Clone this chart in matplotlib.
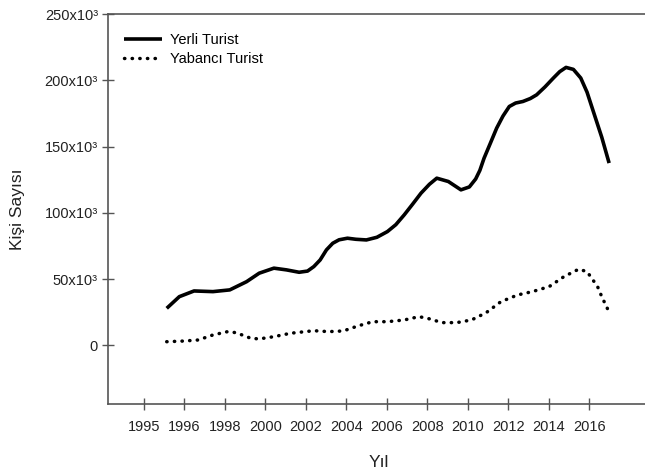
import matplotlib
matplotlib.use("Agg")
import matplotlib.pyplot as plt
import numpy as np

plt.rcParams['font.family'] = ['Liberation Sans', 'DejaVu Sans']

# Yerli Turist
yerli_x = [1995.0, 1995.6, 1996.3, 1997.2, 1998.0, 1998.8, 1999.4, 2000.1, 2000.7,
           2001.3, 2001.7, 2002.0, 2002.3, 2002.6, 2002.9, 2003.2, 2003.6, 2004.0,
           2004.5, 2005.0, 2005.5, 2005.9, 2006.3, 2006.7, 2007.1, 2007.5, 2007.85,
           2008.4, 2009.0, 2009.4, 2009.7, 2009.9, 2010.1, 2010.4, 2010.7, 2011.0,
           2011.3, 2011.6, 2011.95, 2012.3, 2012.6, 2013.0, 2013.4, 2013.7, 2014.0,
           2014.35, 2014.7, 2015.0, 2015.3, 2015.7, 2016.05]
yerli_y = [27.9, 36.7, 41.0, 40.5, 41.8, 48.0, 54.4, 58.2, 56.9,
           55.1, 56.0, 59.4, 64.4, 72.0, 77.0, 79.6, 80.8, 80.0,
           79.5, 81.5, 85.8, 91.0, 98.4, 106.5, 114.8, 121.5, 126.1,
           123.6, 117.3, 119.5, 125.5, 132.0, 141.2, 152.5, 163.9, 173.0,
           180.2, 182.8, 184.0, 186.2, 189.0, 195.0, 201.7, 206.5, 209.7,
           208.2, 201.7, 191.0, 176.4, 157.0, 137.5]

# Yabanci Turist
yabanci_x = [1995.0, 1995.8, 1996.5, 1997.2, 1997.9, 1998.3, 1999.0, 1999.4, 2000.1,
             2000.9, 2002.0, 2002.7, 2003.4, 2004.1, 2004.8, 2005.5, 2006.3, 2007.0,
             2007.4, 2008.1, 2008.8, 2009.5, 2010.2, 2010.9, 2011.7, 2012.4, 2013.2,
             2013.9, 2014.6, 2015.0, 2015.5, 2015.7, 2016.0]
yabanci_y = [2.7, 3.2, 4.0, 7.8, 10.3, 9.5, 5.3, 4.8, 6.5,
             9.1, 11.0, 10.3, 10.8, 14.6, 17.8, 17.8, 19.1, 21.6,
             20.4, 17.1, 17.1, 19.1, 24.6, 32.9, 38.0, 40.5, 44.3,
             51.8, 57.4, 55.6, 44.3, 36.7, 26.7]

tick_labels = ['1995', '1996', '1998', '2000', '2002', '2004', '2006', '2008',
               '2010', '2012', '2014', '2016']
ytick_vals = [0, 50, 100, 150, 200, 250]
ytick_labels = ['0', '50x10³', '100x10³', '150x10³', '200x10³', '250x10³']

fig = plt.figure(figsize=(6.45, 4.73), dpi=100)
ax = fig.add_axes([0.1679, 0.1459, 0.84, 0.8245])

ax.plot(yerli_x, np.array(yerli_y) * 1000, color='black', lw=2.6,
        solid_capstyle='butt', solid_joinstyle='round', label='Yerli Turist')
ax.plot(yabanci_x, np.array(yabanci_y) * 1000, color='black', lw=2.5,
        linestyle=(0, (0.1, 2.1)), dash_capstyle='round', label='Yabancı Turist')

ax.set_xlim(1992.22, 2018.0)
ax.set_ylim(-44300, 250000)

ax.set_xticks(np.linspace(1993.92, 2015.10, len(tick_labels)))
ax.set_xticklabels(tick_labels)
ax.set_yticks(np.array(ytick_vals) * 1000)
ax.set_yticklabels(ytick_labels)

for s in ['left', 'bottom', 'top']:
    ax.spines[s].set_color('#555555')
    ax.spines[s].set_linewidth(1.2)
ax.spines['right'].set_visible(False)
ax.tick_params(direction='inout', length=9, width=1.0, color='#555555',
               labelsize=10.5, labelcolor='#222222')
ax.tick_params(axis='x', pad=7)
ax.tick_params(axis='y', pad=3)

ax.set_xlabel('Yıl', fontsize=12.5, color='#222222', labelpad=15)
ax.set_ylabel('Kişi Sayısı', fontsize=12.5, color='#222222', labelpad=14)

ax.legend(loc='upper left', bbox_to_anchor=(0.005, 0.985), frameon=False,
          fontsize=10.5, handlelength=2.6, handletextpad=0.55, labelspacing=0.35)

fig.savefig('out.png', dpi=100)
